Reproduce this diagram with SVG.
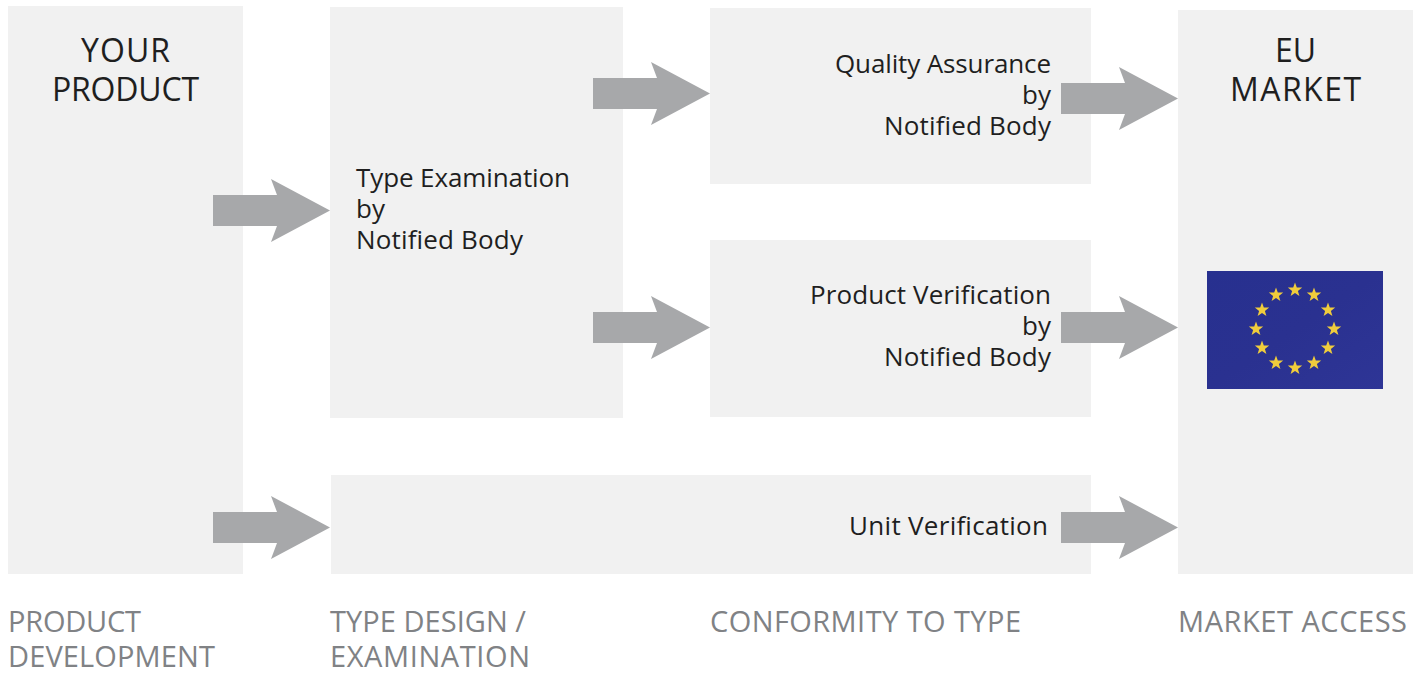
<svg xmlns="http://www.w3.org/2000/svg" width="1424" height="673" viewBox="0 0 1424 673">
<style>
.box{fill:#f1f1f1}
.arrow{fill:#a7a8aa}
text{font-family:"Open Sans","Noto Sans","Liberation Sans",sans-serif}
.big{font-size:32px;fill:#1f1f1f;text-anchor:middle}
.mid{font-size:26px;fill:#1f1f1f}
.end{text-anchor:end}
.cap{font-size:29px;fill:#808285}
.star{fill:#f0cd3c}
</style>
<defs>
<polygon id="arr" points="0,16 64,16 58,0 117,31.5 58,63 64,47 0,47"/>
<polygon id="st" points="0,-7.5 1.8,-2.4 7.2,-2.4 2.9,0.9 4.4,6.1 0,3 -4.4,6.1 -2.9,0.9 -7.2,-2.4 -1.8,-2.4"/>
<linearGradient id="flag" x1="0" y1="0" x2="1" y2="1"><stop offset="0" stop-color="#27308f"/><stop offset="0.5" stop-color="#2a3190"/><stop offset="1" stop-color="#2e3596"/></linearGradient>
</defs>
<g id="your-product"><rect class="box" x="8" y="6" width="235" height="568"/>
<text class="big" x="125.500" y="62" textLength="89">YOUR</text><text class="big" x="125.500" y="101" textLength="147">PRODUCT</text></g>
<g id="type-examination"><rect class="box" x="330" y="7" width="293" height="411"/>
<text class="mid" x="356" y="187" textLength="214">Type Examination</text><text class="mid" x="356" y="218">by</text><text class="mid" x="356" y="249" textLength="167">Notified Body</text></g>
<g id="quality-assurance"><rect class="box" x="710" y="8" width="381" height="176"/>
<text class="mid end" x="1051" y="73" textLength="216">Quality Assurance</text><text class="mid end" x="1051" y="104">by</text><text class="mid end" x="1051" y="135" textLength="167">Notified Body</text></g>
<g id="product-verification"><rect class="box" x="710" y="240" width="381" height="177"/>
<text class="mid end" x="1051" y="304" textLength="241">Product Verification</text><text class="mid end" x="1051" y="335">by</text><text class="mid end" x="1051" y="366" textLength="167">Notified Body</text></g>
<g id="unit-verification"><rect class="box" x="331" y="475" width="760" height="99"/>
<text class="mid end" x="1048" y="535" textLength="199">Unit Verification</text></g>
<g id="eu-market"><rect class="box" x="1178" y="10" width="235" height="564"/>
<text class="big" x="1295.500" y="62">EU</text><text class="big" x="1295.500" y="101" textLength="131">MARKET</text>
<g id="eu-flag"><rect x="1207" y="271" width="176" height="118" fill="url(#flag)"/>
<g class="star"><use href="#st" x="1295" y="290"/><use href="#st" x="1314" y="295"/><use href="#st" x="1328" y="310"/><use href="#st" x="1334" y="329"/><use href="#st" x="1328" y="348"/><use href="#st" x="1314" y="363"/><use href="#st" x="1295" y="368"/><use href="#st" x="1276" y="363"/><use href="#st" x="1262" y="348"/><use href="#st" x="1256" y="329"/><use href="#st" x="1262" y="310"/><use href="#st" x="1276" y="295"/></g></g></g>
<g id="connectors" class="arrow">
<use href="#arr" x="213" y="179"/><use href="#arr" x="213" y="496"/><use href="#arr" x="593" y="62"/><use href="#arr" x="593" y="296"/><use href="#arr" x="1061" y="67"/><use href="#arr" x="1061" y="296"/><use href="#arr" x="1061" y="496"/>
</g>
<g id="captions">
<text class="cap" x="8" y="632" textLength="133">PRODUCT</text><text class="cap" x="8" y="667" textLength="207">DEVELOPMENT</text>
<text class="cap" x="330" y="632" textLength="196">TYPE DESIGN /</text><text class="cap" x="330" y="667" textLength="200">EXAMINATION</text>
<text class="cap" x="710" y="632" textLength="311">CONFORMITY TO TYPE</text>
<text class="cap" x="1178" y="632" textLength="229">MARKET ACCESS</text>
</g>
</svg>
